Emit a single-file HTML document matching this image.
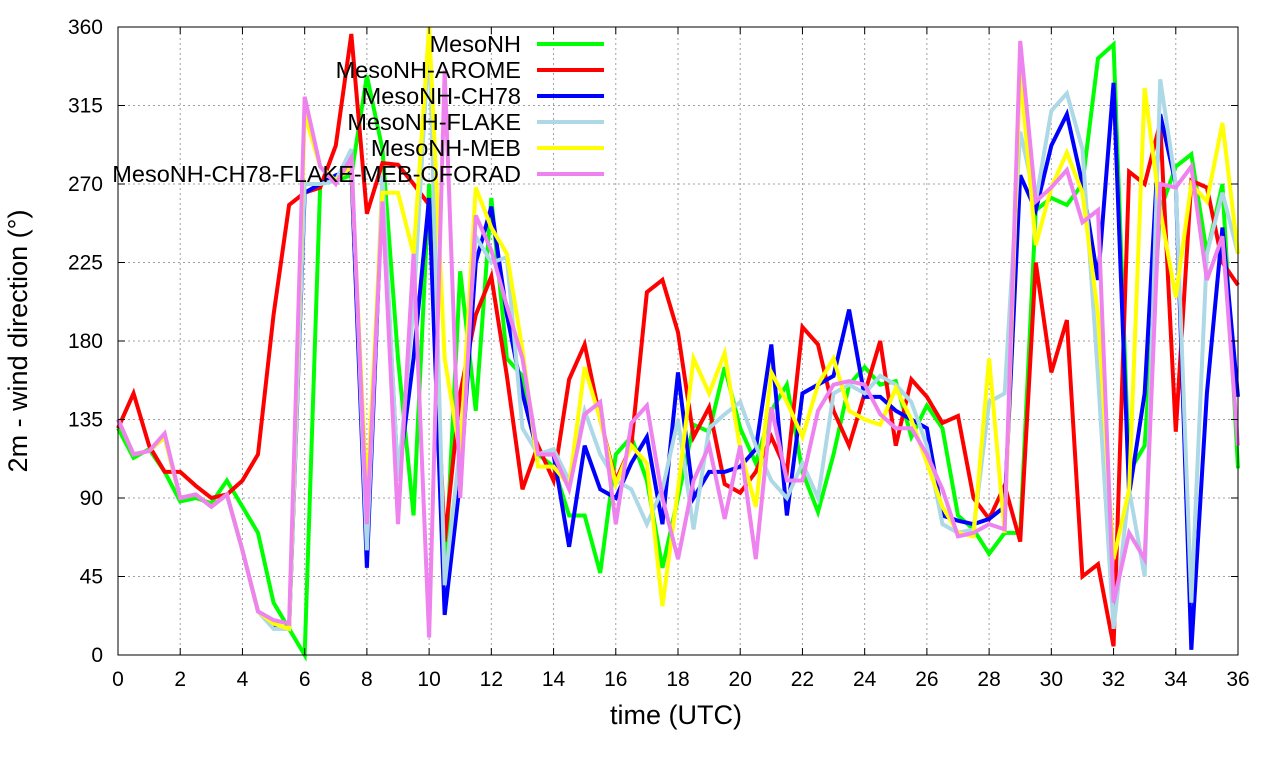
<!DOCTYPE html>
<html><head><meta charset="utf-8"><style>
html,body{margin:0;padding:0;background:#fff;}
svg{display:block;font-family:"Liberation Sans",sans-serif;}
</style></head><body>
<svg id="chart" width="1280" height="760" viewBox="0 0 1280 760" xmlns="http://www.w3.org/2000/svg">
<g id="grid"></g>
<g id="series"></g>
<rect x="118" y="27" width="1120" height="628" fill="none" stroke="#000" stroke-width="1"/>
<g id="ticks"></g>
<text x="676" y="724" font-size="27" text-anchor="middle">time (UTC)</text>
<text transform="translate(27,341) rotate(-90)" font-size="27" text-anchor="middle">2m - wind direction (°)</text>
<g id="legend"></g>
</svg>
<script>
const xTicks=[0,2,4,6,8,10,12,14,16,18,20,22,24,26,28,30,32,34,36];
const yTicks=[0,45,90,135,180,225,270,315,360];
const seriesNames=["MesoNH","MesoNH-AROME","MesoNH-CH78","MesoNH-FLAKE","MesoNH-MEB","MesoNH-CH78-FLAKE-MEB-OFORAD"];
const seriesColors=["#00ff00","#ff0000","#0000ff","#add8e6","#ffff00","#ee82ee"];
const mesonh=[130,113,118,105,88,90,87,100,85,70,30,15,0,270,272,275,332,290,170,80,270,40,220,140,262,170,160,115,108,80,80,47,115,125,100,50,90,132,128,165,130,110,140,155,105,82,115,155,165,155,157,125,143,130,80,72,58,70,70,255,262,258,270,342,350,105,120,255,280,287,230,270,107];
const arome=[130,150,120,105,105,97,90,92,100,115,195,258,265,268,292,356,253,282,281,270,258,65,150,195,217,160,95,120,100,158,178,135,100,120,208,215,185,125,142,98,93,105,125,105,188,178,140,120,150,180,120,158,148,133,137,90,78,97,65,225,162,192,45,52,5,277,270,305,128,272,268,225,212];
const ch78=[135,115,117,125,90,92,85,92,60,25,17,15,265,270,275,278,50,270,100,170,262,23,100,225,257,195,150,115,115,62,120,95,90,110,125,75,162,90,105,105,108,118,178,80,150,155,160,198,148,148,140,135,130,80,77,75,78,85,275,255,292,310,270,215,328,92,150,310,270,3,150,245,148];
const flake=[135,115,117,125,90,92,85,92,60,25,15,15,270,270,272,290,60,275,100,200,355,40,120,240,225,228,130,115,118,100,140,115,100,95,75,95,135,72,130,138,145,120,100,90,110,90,150,155,150,160,155,145,120,75,70,72,145,150,300,260,312,322,290,160,15,95,45,330,270,30,230,265,230];
const meb=[135,115,117,125,90,92,85,92,60,25,18,15,310,280,272,280,90,265,265,230,360,170,115,268,245,230,175,108,108,97,165,135,98,120,110,28,95,170,150,173,118,85,162,145,125,155,170,140,135,132,153,135,110,85,70,68,170,70,335,235,268,288,265,195,55,95,325,255,205,270,260,305,230];
const oforad=[135,115,117,127,90,92,85,92,60,25,20,18,320,280,270,285,75,260,75,230,10,335,90,252,232,200,170,115,115,95,138,145,75,133,143,90,55,100,120,78,120,55,142,100,100,140,155,157,155,138,130,130,115,95,68,70,75,72,352,260,268,278,248,255,30,70,55,270,268,280,215,240,120];
const allSeries=[mesonh,arome,ch78,flake,meb,oforad];

const X0=118,X1=1238,Y0=655,Y1=27;
const xs=t=>X0+(t/36)*(X1-X0);
const ys=v=>Y0-(v/360)*(Y0-Y1);
const NS="http://www.w3.org/2000/svg";
function mk(tag,parent){const e=document.createElementNS(NS,tag);parent.appendChild(e);return e;}

const grid=document.getElementById('grid'),ticks=document.getElementById('ticks');
xTicks.forEach(t=>{
  const x=xs(t);
  if(t>0&&t<36){const g=mk('line',grid);
  
  
  g.setAttribute('x1',x);g.setAttribute('x2',x);g.setAttribute('y1',Y0);g.setAttribute('y2',Y1);
  g.setAttribute('stroke','#a0a0a0');g.setAttribute('stroke-dasharray','2,3');}
  const tk=mk('line',ticks);
  
  
  tk.setAttribute('x1',x);tk.setAttribute('x2',x);tk.setAttribute('y1',Y0);tk.setAttribute('y2',Y0-7);tk.setAttribute('stroke','#000');
  const tk2=mk('line',ticks);
  
  
  tk2.setAttribute('x1',x);tk2.setAttribute('x2',x);tk2.setAttribute('y1',Y1);tk2.setAttribute('y2',Y1+7);tk2.setAttribute('stroke','#000');
  const l=mk('text',ticks);
  
  
  l.setAttribute('x',x);l.setAttribute('y',686);l.setAttribute('font-size','21');l.setAttribute('text-anchor','middle');
  l.textContent=t;
});
yTicks.forEach(v=>{
  const y=ys(v);
  if(v>0&&v<360){const g=mk('line',grid);
  
  
  g.setAttribute('x1',X0);g.setAttribute('x2',X1);g.setAttribute('y1',y);g.setAttribute('y2',y);
  g.setAttribute('stroke','#a0a0a0');g.setAttribute('stroke-dasharray','2,3');}
  const tk=mk('line',ticks);
  
  
  tk.setAttribute('x1',X0);tk.setAttribute('x2',X0+7);tk.setAttribute('y1',y);tk.setAttribute('y2',y);tk.setAttribute('stroke','#000');
  const tk2=mk('line',ticks);
  
  
  tk2.setAttribute('x1',X1);tk2.setAttribute('x2',X1-7);tk2.setAttribute('y1',y);tk2.setAttribute('y2',y);tk2.setAttribute('stroke','#000');
  const l=mk('text',ticks);
  
  
  l.setAttribute('x',103);l.setAttribute('y',y+7);l.setAttribute('font-size','21');l.setAttribute('text-anchor','end');
  l.textContent=v;
});

const sg=document.getElementById('series');
allSeries.forEach((arr,i)=>{
  const p=mk('polyline',sg);
  
  
  p.setAttribute('points',arr.map((v,k)=>xs(k*0.5)+','+ys(v)).join(' '));
  p.setAttribute('fill','none');p.setAttribute('stroke',seriesColors[i]);p.setAttribute('stroke-width','4');
  p.setAttribute('stroke-linejoin','miter');
});

const lg=document.getElementById('legend');
seriesNames.forEach((n,i)=>{
  const y=44+i*26;
  const t=mk('text',lg);
  
  
  t.setAttribute('x',521);t.setAttribute('y',y+8);t.setAttribute('font-size','23.5');t.setAttribute('text-anchor','end');
  t.textContent=n;
  const l=mk('line',lg);
  
  
  l.setAttribute('x1',537);l.setAttribute('x2',604);l.setAttribute('y1',y);l.setAttribute('y2',y);
  l.setAttribute('stroke',seriesColors[i]);l.setAttribute('stroke-width','4');
});
</script>
</body></html>
